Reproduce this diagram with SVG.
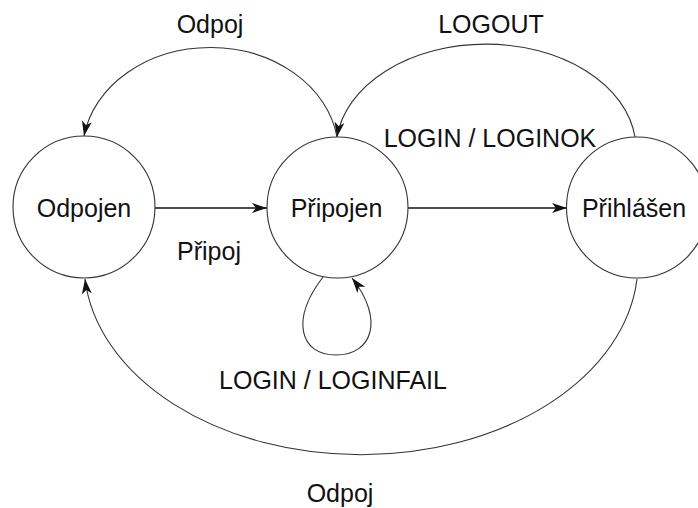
<svg xmlns="http://www.w3.org/2000/svg" width="698" height="508" viewBox="0 0 698 508">
<style>
.st{fill:#fff;stroke:#333;stroke-width:1.1}
.lb{font-family:"Liberation Sans",Arial,sans-serif;font-size:25px;fill:#111;text-anchor:middle}
.cn{fill:none;stroke:#333;stroke-width:1.1}
.ln{fill:none;stroke:#111;stroke-width:1.3}
</style>
<defs>
<marker id="ah" markerUnits="userSpaceOnUse" markerWidth="16" markerHeight="12" refX="15" refY="5" orient="auto">
<path d="M0,0 L15,5 L0,10 L4,5 Z" fill="#111"/>
</marker>
</defs>
<rect width="698" height="508" fill="#fff"/>
<g id="connectors">
<path class="cn" d="M337 137 A 128 105 0 0 0 84 136" marker-end="url(#ah)"/>
<path class="cn" d="M635 137 A 150 105 0 0 0 337 137" marker-end="url(#ah)"/>
<path class="cn" d="M637 279 A 277 192 0 0 1 85 279" marker-end="url(#ah)"/>
<path class="ln" d="M155 208 L267 208" marker-end="url(#ah)"/>
<path class="ln" d="M408 208 L567 208" marker-end="url(#ah)"/>
<path class="cn" d="M323 277 C 290 320, 300 355, 336 355 C 372 355, 385 320, 352 278" marker-end="url(#ah)"/>
<text class="lb" x="210" y="33">Odpoj</text>
<text class="lb" x="491" y="33">LOGOUT</text>
<text class="lb" x="490" y="147">LOGIN / LOGINOK</text>
<text class="lb" x="209" y="260">Připoj</text>
<text class="lb" x="333" y="389">LOGIN / LOGINFAIL</text>
<text class="lb" x="340" y="502">Odpoj</text>
</g>
<g id="odpojen">
<circle class="st" cx="84" cy="207" r="71"/>
<text class="lb" x="84" y="217">Odpojen</text>
</g>
<g id="pripojen">
<circle class="st" cx="337.5" cy="207.5" r="70.5"/>
<text class="lb" x="336.5" y="217">Připojen</text>
</g>
<g id="prihlasen">
<circle class="st" cx="637" cy="207.5" r="70.5"/>
<text class="lb" x="634" y="217">Přihlášen</text>
</g>
</svg>
